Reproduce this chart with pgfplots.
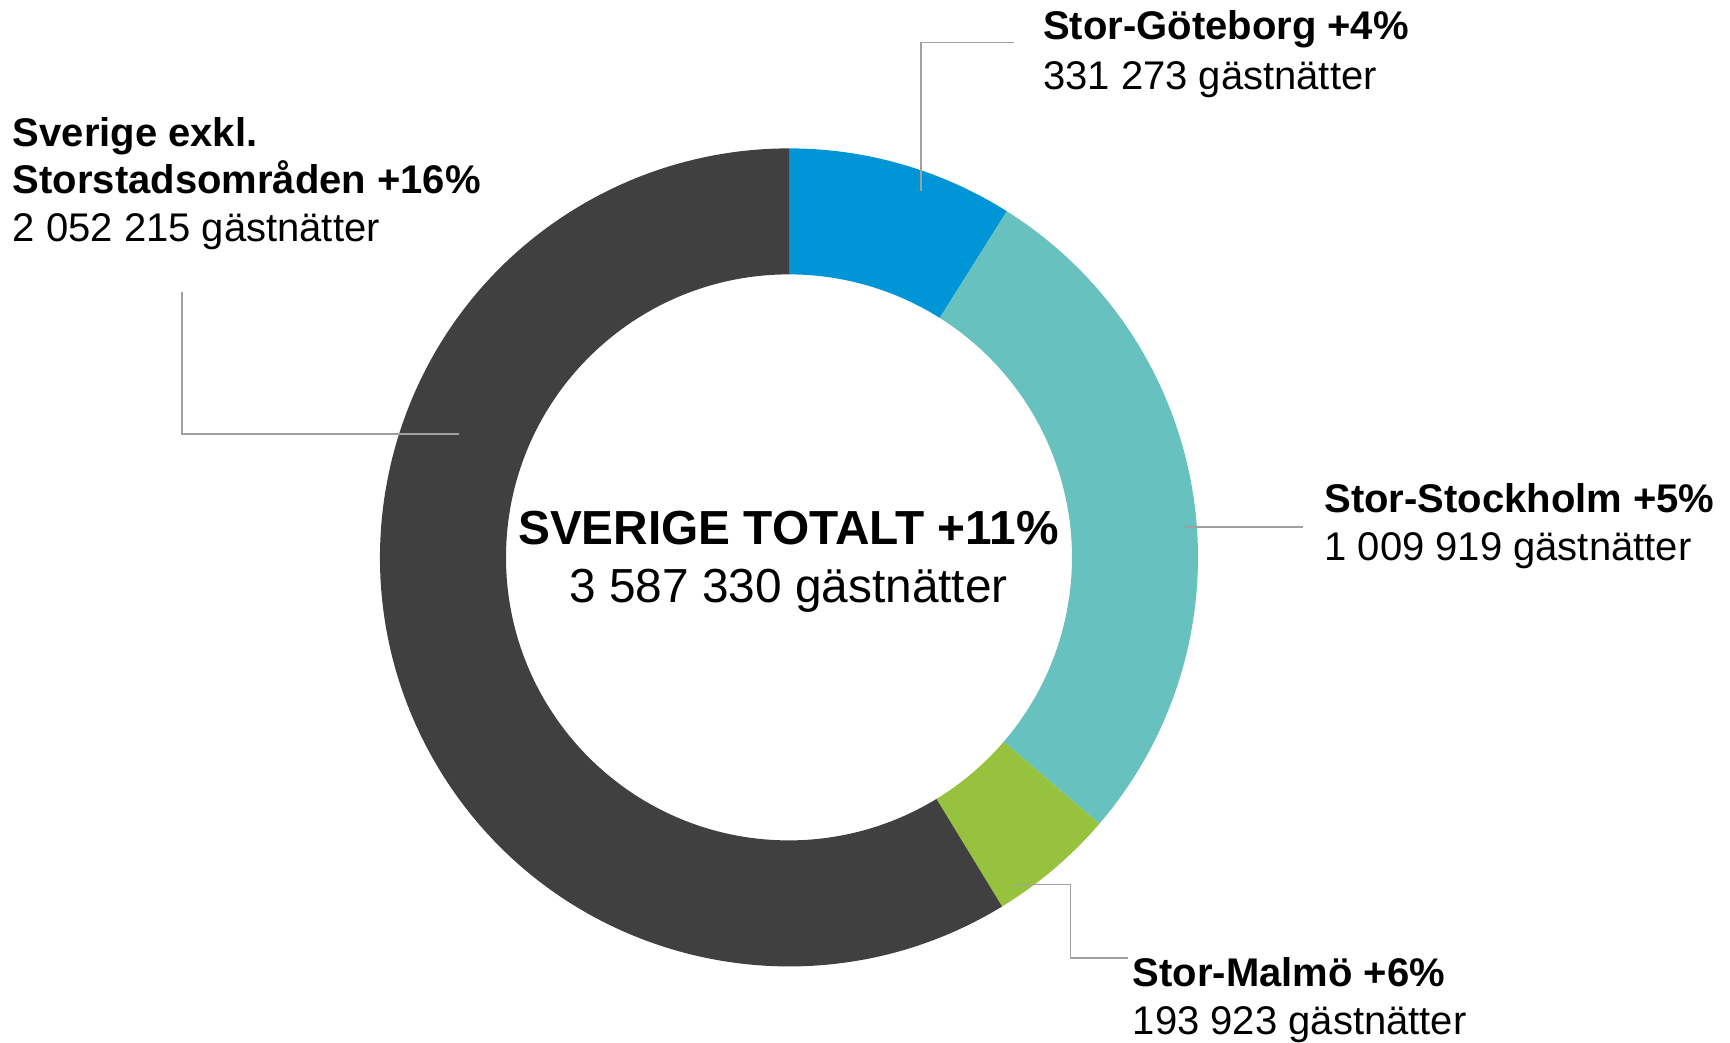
\documentclass[border=0pt]{standalone}
\usepackage{pgfplots}
\pgfplotsset{compat=1.18}
\usepackage{fontspec}
\setmainfont{Liberation Sans}
\definecolor{cGbg}{HTML}{0095D6}
\definecolor{cSthlm}{HTML}{67C2BF}
\definecolor{cMlm}{HTML}{97C23D}
\definecolor{cRest}{HTML}{404040}
\definecolor{cLead}{HTML}{A0A0A0}
\tikzset{lab/.style={anchor=base west, inner sep=0pt, font=\fontsize{40}{48}\selectfont},
         labb/.style={lab, font=\fontsize{40}{48}\selectfont\bfseries}}
\begin{document}
\begin{tikzpicture}
% segment shares (in % of the ring) as drawn in the chart
\def\vG{8.94}
\def\vS{27.35}
\def\vM{4.99}
\def\vR{58.72}
\pgfmathsetmacro\vT{\vG+\vS+\vM+\vR}
\pgfmathsetmacro\aA{90}
\pgfmathsetmacro\aB{\aA-\vG/\vT*360}
\pgfmathsetmacro\aC{\aB-\vS/\vT*360}
\pgfmathsetmacro\aD{\aC-\vM/\vT*360}
\pgfmathsetmacro\aE{\aD-\vR/\vT*360}
\def\cx{789}
\def\cy{485.6}
\def\Ro{409}
\def\Ri{283}
\newcommand\seg[3]{%
  \fill[#1] (axis cs:{\cx+\Ro*cos(#2)},{\cy+\Ro*sin(#2)})
     arc[start angle=#2, end angle=#3, radius=\Ro pt]
     -- (axis cs:{\cx+\Ri*cos(#3)},{\cy+\Ri*sin(#3)})
     arc[start angle=#3, end angle=#2, radius=\Ri pt] -- cycle;}
\begin{axis}[
  scale only axis, width=1730pt, height=1043pt,
  xmin=0, xmax=1730, ymin=0, ymax=1043,
  hide axis, clip=false]
\seg{cGbg}{\aA}{\aB}
\seg{cSthlm}{\aB}{\aC}
\seg{cMlm}{\aC}{\aD}
\seg{cRest}{\aD}{\aE}
% leader lines
\draw[cLead, line width=1.6pt] (axis cs:920.7,852.3) -- (axis cs:920.7,1000.3) -- (axis cs:1014,1000.3);
\draw[cLead, line width=1.6pt] (axis cs:458.7,608.7) -- (axis cs:181.7,608.7) -- (axis cs:181.7,751.3);
\draw[cLead, line width=1.6pt] (axis cs:1185,516) -- (axis cs:1303.3,516);
\draw[cLead, line width=1.6pt] (axis cs:1013,158.3) -- (axis cs:1070.3,158.3) -- (axis cs:1070.3,85) -- (axis cs:1127.7,85);
% labels
\node[labb] at (axis cs:1043,1003.7) {Stor-Göteborg +4\%};
\node[lab]  at (axis cs:1043,953.7) {331 273 gästnätter};
\node[labb] at (axis cs:12.7,896.3) {Sverige exkl.};
\node[labb] at (axis cs:12.7,849) {Storstadsområden +16\%};
\node[lab]  at (axis cs:12.7,801.3) {2 052 215 gästnätter};
\node[labb] at (axis cs:1324.3,530.3) {Stor-Stockholm +5\%};
\node[lab]  at (axis cs:1324.3,482.3) {1 009 919 gästnätter};
\node[labb] at (axis cs:1132.7,56.3) {Stor-Malmö +6\%};
\node[lab]  at (axis cs:1132.7,8) {193 923 gästnätter};
\node[anchor=base, inner sep=0pt, font=\fontsize{47.8}{56}\selectfont\bfseries] at (axis cs:788.5,498) {SVERIGE TOTALT +11\%};
\node[anchor=base, inner sep=0pt, font=\fontsize{47.8}{56}\selectfont] at (axis cs:788.5,440.3) {3 587 330 gästnätter};
\end{axis}
\pgfresetboundingbox
\useasboundingbox (0,0) rectangle (1730pt,1043pt);
\end{tikzpicture}
\end{document}
